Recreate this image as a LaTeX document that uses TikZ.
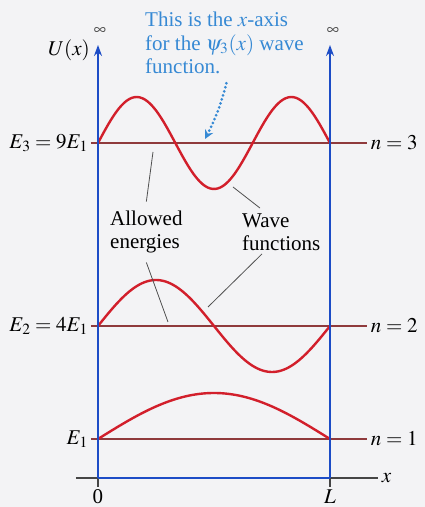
\documentclass[tikz,border=0pt]{standalone}
\usepackage[no-math]{fontspec}
\newfontfamily\timesfont{Liberation Serif}
\usepackage{mathptmx}
\definecolor{wallblue}{HTML}{1C4CC6}
\definecolor{wavered}{HTML}{D21F2B}
\definecolor{levelred}{HTML}{8F3A3C}
\definecolor{noteblue}{HTML}{3689D4}
\definecolor{callgray}{HTML}{505050}
\definecolor{axisgray}{HTML}{454545}
\definecolor{bgcolor}{HTML}{F3F3F5}
\usepackage{xcolor}
\usepackage{tikz}
\usetikzlibrary{arrows.meta, positioning, calc}

\begin{document}
\begin{tikzpicture}[x=1pt, y=1pt, font=\timesfont\fontsize{21}{23.5}\selectfont,
    wall/.style={wallblue, line width=2.4pt},
    level/.style={levelred, line width=1.8pt},
    wave/.style={wavered, line width=2.4pt, smooth, samples=90, domain=0:232},
    callout/.style={callgray, line width=0.8pt}]
      % Frame
      \fill[bgcolor] (-98,-29) rectangle (327,478);
      \useasboundingbox (-98,-29) rectangle (327,478);

      % Axis
      \coordinate (xstart) at (-22,0);
      \draw[axisgray, line width=1.6pt] (xstart) -- (280,0)
        node[right, black, inner sep=3pt] (xlab) {$x$};
      \draw[axisgray, line width=1.4pt] (0,0) -- (0,-9);
      \draw[axisgray, line width=1.4pt] (232,0) -- (232,-9);
      \node (zero) at (0,-19) {0};
      \node (ell) at (232,-19) {$L$};

      % Levels and wave functions
      \foreach \n/\E/\lbl in {1/39/E_1, 2/152/E_2 = 4E_1, 3/335/E_3 = 9E_1} {
        \draw[level] (-7,\E) -- (269,\E) node[right, black, inner sep=3pt] (n\n) {$n = \n$};
        \node[left, inner sep=0pt] (E\n) at (-10,\E) {$\lbl$};
        \draw[wave] plot (\x, {\E + 46*sin(\x/232*180*\n)});
      }

      % Walls
      \draw[wall] (0,0) -- (232,0);
      \draw[wall, -{Stealth[length=11pt, width=8pt]}] (0,0) -- (0,433);
      \draw[wall, -{Stealth[length=11pt, width=8pt]}] (232,0) -- (232,433);
      \node[axisgray, font=\fontsize{17}{17}\selectfont] (inf1) at (2,447) {$\infty$};
      \node[axisgray, font=\fontsize{17}{17}\selectfont] (inf2) at (235,447) {$\infty$};
      \node[left, inner sep=0pt] (ulab) at (-8,428) {$U(x)$};

      % Note on the n = 3 axis
      \node[noteblue, align=left, anchor=north west, inner sep=0pt] (note) at (47,466)
        {This is the $x$-axis\\for the $\psi_3(x)$ wave\\function.};
      \coordinate (tgt) at (107,339);
      \draw[noteblue, line width=3pt, line cap=round, dash pattern=on 0pt off 4.2pt,
        -{Stealth[length=9pt, width=9pt]}] ([xshift=2pt, yshift=-9pt]note.south)
        to[bend left=6] (tgt);

      % Callouts
      \node[align=left, anchor=west, inner sep=0pt] (allowed) at (12,246) {Allowed\\energies};
      \node[align=left, anchor=west, inner sep=0pt] (wavefn) at (144,246) {Wave\\functions};
      \coordinate (a3) at (55,326);
      \coordinate (a2) at (70,156);
      \coordinate (w3) at (135,291);
      \coordinate (w2) at (110,171);
      \draw[callout] (a3) -- ([yshift=9pt]allowed.north);
      \draw[callout] ([yshift=-9pt]allowed.south) -- (a2);
      \draw[callout] (w3) -- ([shift={(18,5)}]wavefn.north west);
      \draw[callout] ([shift={(20,-3)}]wavefn.south west) -- (w2);
    \end{tikzpicture}
\end{document}
